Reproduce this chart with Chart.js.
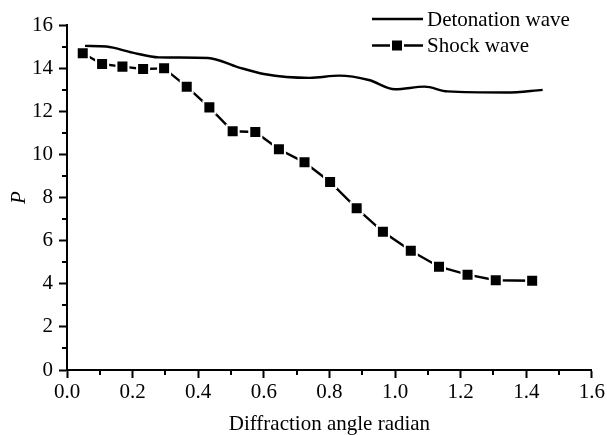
<!DOCTYPE html>
<html>
<head>
<meta charset="utf-8">
<script src="https://cdn.jsdelivr.net/npm/chart.js"></script>
<style>
  body { margin: 0; background: #fff; }
  #wrap { width: 607px; height: 435px; }
</style>
</head>
<body>
<div id="wrap"><canvas id="myChart" width="607" height="435"></canvas></div>
<script>
// values
const detX = [0.055, 0.12, 0.2, 0.28, 0.43, 0.52, 0.6, 0.74, 0.83, 0.92, 1.0, 1.09, 1.16, 1.34, 1.45];
const detY = [15.03, 15.0, 14.72, 14.5, 14.47, 14.05, 13.73, 13.55, 13.65, 13.45, 13.02, 13.14, 12.92, 12.87, 12.99];

const shockX = [0.048, 0.107, 0.169, 0.232, 0.296, 0.365, 0.434, 0.505, 0.574, 0.646, 0.724, 0.802, 0.883, 0.963, 1.048, 1.134, 1.221, 1.307, 1.418];
const shockY = [14.69, 14.19, 14.07, 13.96, 13.99, 13.14, 12.18, 11.07, 11.04, 10.24, 9.63, 8.72, 7.50, 6.41, 5.53, 4.79, 4.42, 4.16, 4.14];

const seriesNames = ["Detonation wave", "Shock wave"];
const xTitle = "Diffraction angle radian";
const yTitle = "P";

const FONT = "'Liberation Serif', 'Times New Roman', serif";

function toPoints(xs, ys) {
  return xs.map((x, i) => ({ x: x, y: ys[i] }));
}

// short ticks between the labelled ones
const minorTicks = {
  id: "minorTicks",
  afterDraw(chart) {
    const ctx = chart.ctx;
    const xs = chart.scales.x;
    const ys = chart.scales.y;
    ctx.save();
    ctx.strokeStyle = "#000";
    ctx.lineWidth = 2;
    ctx.beginPath();
    for (let v = 0.1; v < 1.6; v += 0.2) {
      const px = Math.round(xs.getPixelForValue(v));
      ctx.moveTo(px, ys.bottom);
      ctx.lineTo(px, ys.bottom + 5);
    }
    for (let v = 1; v < 16; v += 2) {
      const py = Math.round(ys.getPixelForValue(v));
      ctx.moveTo(xs.left, py);
      ctx.lineTo(xs.left - 5, py);
    }
    ctx.stroke();
    ctx.restore();
  }
};

// legend in the upper right corner of the plot
const cornerLegend = {
  id: "cornerLegend",
  afterDraw(chart) {
    const ctx = chart.ctx;
    ctx.save();
    chart.data.datasets.forEach((ds, i) => {
      const y = 19 + i * 26.5;
      ctx.strokeStyle = "#000";
      ctx.lineWidth = 2.4;
      ctx.beginPath();
      ctx.moveTo(372, y);
      ctx.lineTo(423, y);
      ctx.stroke();
      if (ds.pointRadius > 0) {
        ctx.fillStyle = "#000";
        ctx.strokeStyle = "#fff";
        ctx.lineWidth = 2;
        ctx.beginPath();
        ctx.rect(391, y - 6, 12, 12);
        ctx.fill();
        ctx.stroke();
      }
      ctx.fillStyle = "#000";
      ctx.font = "21px " + FONT;
      ctx.textBaseline = "alphabetic";
      ctx.fillText(ds.label, 427, y + 6.5);
    });
    ctx.restore();
  }
};

const ctx = document.getElementById("myChart");

const myChart = new Chart(ctx, {
  type: "line",
  data: {
    datasets: [
      {
        label: seriesNames[0],
        data: toPoints(detX, detY),
        borderColor: "#000",
        borderWidth: 2.4,
        pointRadius: 0,
        fill: false,
        cubicInterpolationMode: "monotone",
      },
      {
        label: seriesNames[1],
        data: toPoints(shockX, shockY),
        borderColor: "#000",
        borderWidth: 2.4,
        pointStyle: "rect",
        pointRadius: 8.5,
        pointBackgroundColor: "#000",
        pointBorderColor: "#fff",
        pointBorderWidth: 2,
        fill: false,
        tension: 0,
      },
    ],
  },
  options: {
    responsive: false,
    animation: false,
    layout: { padding: { top: 25, right: 13, left: 0, bottom: 0 } },
    plugins: {
      legend: { display: false },
      tooltip: { enabled: false },
    },
    scales: {
      x: {
        type: "linear",
        min: 0,
        max: 1.6,
        border: { display: true, color: "#000", width: 2 },
        grid: { drawOnChartArea: false, drawTicks: true, tickLength: 8, tickColor: "#000", tickWidth: 2 },
        ticks: {
          stepSize: 0.2,
          color: "#000",
          padding: 2,
          maxRotation: 0,
          font: { family: FONT, size: 21 },
          callback: (v) => Number(v).toFixed(1),
        },
        title: {
          display: true,
          text: xTitle,
          color: "#000",
          font: { family: FONT, size: 21, lineHeight: 1 },
          padding: { top: 0, bottom: 0 },
        },
        afterFit(scale) { scale.height = 65; },
      },
      y: {
        type: "linear",
        min: 0,
        max: 16,
        border: { display: true, color: "#000", width: 2 },
        grid: { drawOnChartArea: false, drawTicks: true, tickLength: 8, tickColor: "#000", tickWidth: 2 },
        ticks: {
          stepSize: 2,
          color: "#000",
          padding: 6,
          font: { family: FONT, size: 21 },
          callback: (v) => String(v),
        },
        title: {
          display: true,
          text: yTitle,
          color: "#000",
          font: { family: FONT, size: 21, style: "italic", lineHeight: 1 },
          padding: { top: 9, bottom: 0 },
        },
        afterFit(scale) { scale.width = 67; },
      },
    },
  },
  plugins: [minorTicks, cornerLegend],
});
</script>
</body>
</html>
